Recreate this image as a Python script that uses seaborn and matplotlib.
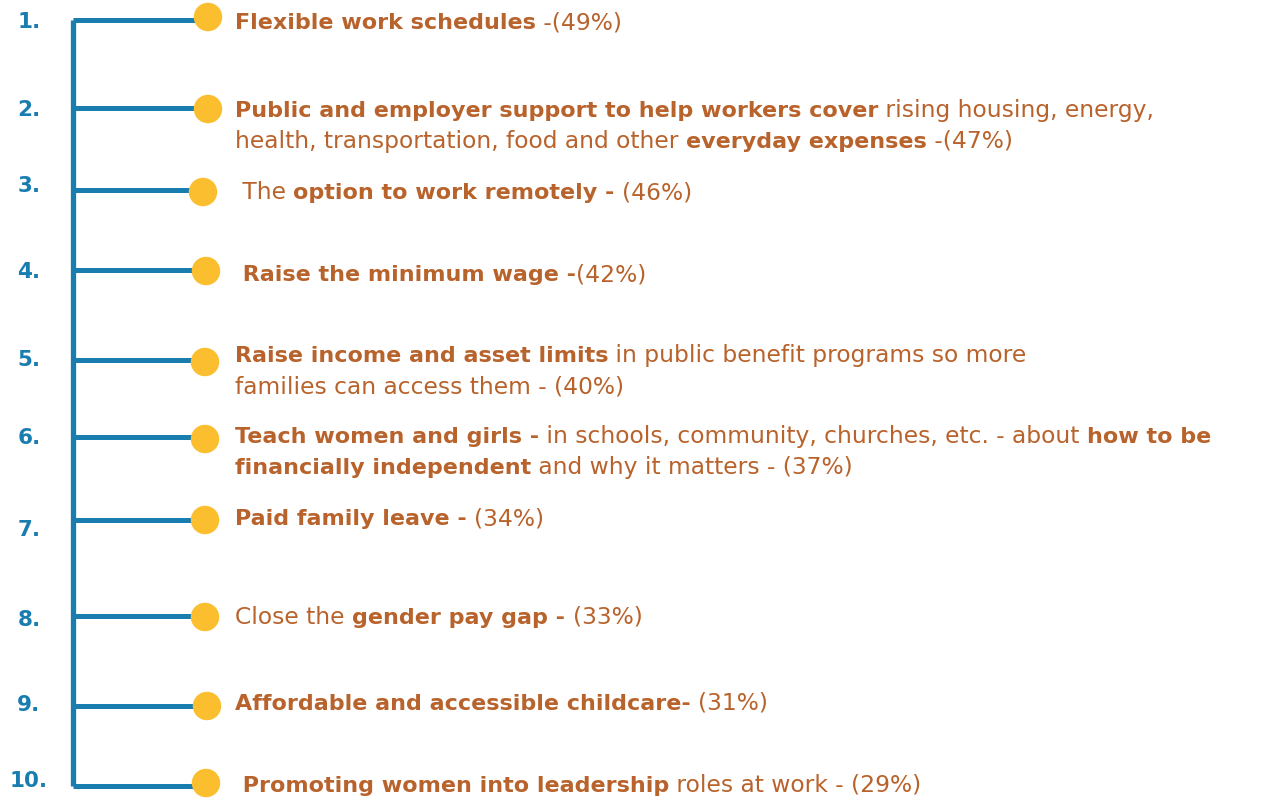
import matplotlib
matplotlib.use("Agg")
import matplotlib.pyplot as plt
import matplotlib.transforms as mtransforms
import pandas as pd
import seaborn as sns

# ranking of workplace / policy supports
ranks = ["1.", "2.", "3.", "4.", "5.", "6.", "7.", "8.", "9.", "10."]
pct = [49, 47, 46, 42, 40, 37, 34, 33, 31, 29]

# each item: list of lines, each line list of (text, weight); {} gets the percent
labels = [
    [[("Flexible work schedules", "bold"), (" -({}%)", "normal")]],
    [[("Public and employer support to help workers cover", "bold"), (" rising housing, energy,", "normal")],
     [("health, transportation, food and other ", "normal"), ("everyday expenses", "bold"), (" -({}%)", "normal")]],
    [[(" The ", "normal"), ("option to work remotely - ", "bold"), ("({}%)", "normal")]],
    [[(" Raise the minimum wage -", "bold"), ("({}%)", "normal")]],
    [[("Raise income and asset limits", "bold"), (" in public benefit programs so more", "normal")],
     [("families can access them - ({}%)", "normal")]],
    [[("Teach women and girls -", "bold"), (" in schools, community, churches, etc. - about ", "normal"), ("how to be", "bold")],
     [("financially independent", "bold"), (" and why it matters - ({}%)", "normal")]],
    [[("Paid family leave - ", "bold"), ("({}%)", "normal")]],
    [[("Close the ", "normal"), ("gender pay gap - ", "bold"), ("({}%)", "normal")]],
    [[("Affordable and accessible childcare- ", "bold"), ("({}%)", "normal")]],
    [[(" Promoting women into leadership", "bold"), (" roles at work - ({}%)", "normal")]],
]

# layout (pixel coordinates, y downwards)
num_y = [22, 110, 186, 272, 360, 438, 530, 620, 705, 781]
branch_y = [20, 108, 190, 270, 360, 437, 520, 616, 706, 786]
dot_y = [17, 109, 192, 271, 362, 439, 520, 617, 706, 783]
dot_x = [208, 208, 203, 206, 205, 205, 205, 205, 207, 206]
base_y = [29, 117, 199, 281, 362, 443, 525, 624, 710, 792]
line_gap = 31
text_x = 235
trunk_x = 73
sizes = {"bold": 16, "normal": 16.8}

BLUE = "#1A7DB0"
ORANGE = "#B9632C"
YELLOW = "#FBBE2E"

sns.set_theme(style="white")
plt.rcParams["font.family"] = ["DejaVu Sans"]

fig = plt.figure(figsize=(12.61, 8.01), dpi=100)
ax = fig.add_axes([0, 0, 1, 1])

# tree: trunk + branches
ax.vlines(trunk_x, branch_y[0], branch_y[-1], color=BLUE, lw=3.8, zorder=1)
ax.hlines(branch_y, trunk_x, [x - 5 for x in dot_x], color=BLUE, lw=3.6, zorder=1)

df = pd.DataFrame({"rank": ranks, "pct": pct, "x": dot_x, "y": dot_y})
sns.scatterplot(data=df, x="x", y="y", s=420, color=YELLOW, edgecolor="none",
                legend=False, ax=ax, zorder=3)
ax.set_xlim(0, 1261)
ax.set_ylim(801, 0)
ax.axis("off")

for r, y in zip(ranks, num_y):
    ax.text(29, y, r, color=BLUE, fontsize=15.5, fontweight="bold",
            ha="center", va="center")

renderer = fig.canvas.get_renderer()
for i, item in enumerate(labels):
    for li, line in enumerate(item):
        trans = ax.transData
        for seg, w in line:
            t = ax.text(text_x, base_y[i] + li * line_gap, seg.format(pct[i]),
                        color=ORANGE, fontsize=sizes[w], fontweight=w,
                        ha="left", va="baseline", transform=trans)
            t.draw(renderer)
            ex = t.get_window_extent(renderer)
            trans = mtransforms.offset_copy(t.get_transform(), fig=fig,
                                            x=ex.width, units="dots")

fig.savefig("out.png", dpi=100)
